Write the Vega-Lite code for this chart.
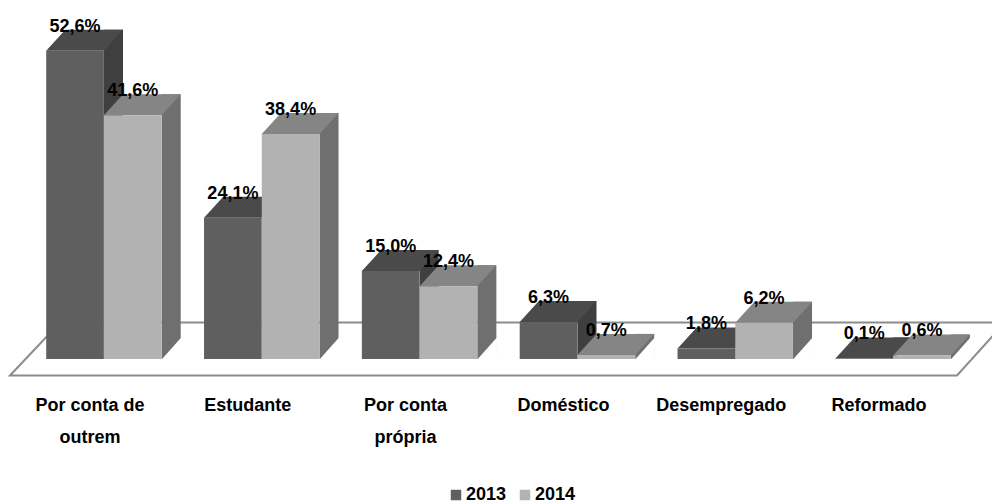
{
"$schema":"https://vega.github.io/schema/vega-lite/v6.json",
"autosize":{"type":"none"},
"padding":{"left":25,"top":0,"right":20,"bottom":145},
"width":947,"height":359,
"background":"white",
"config":{"view":{"stroke":null}},
"data":{"values":[
{"categoria":"Por conta de outrem","ano":"2013","valor":52.6,"rotulo":"52,6%"},
{"categoria":"Por conta de outrem","ano":"2014","valor":41.6,"rotulo":"41,6%"},
{"categoria":"Estudante","ano":"2013","valor":24.1,"rotulo":"24,1%"},
{"categoria":"Estudante","ano":"2014","valor":38.4,"rotulo":"38,4%"},
{"categoria":"Por conta própria","ano":"2013","valor":15.0,"rotulo":"15,0%"},
{"categoria":"Por conta própria","ano":"2014","valor":12.4,"rotulo":"12,4%"},
{"categoria":"Doméstico","ano":"2013","valor":6.3,"rotulo":"6,3%"},
{"categoria":"Doméstico","ano":"2014","valor":0.7,"rotulo":"0,7%"},
{"categoria":"Desempregado","ano":"2013","valor":1.8,"rotulo":"1,8%"},
{"categoria":"Desempregado","ano":"2014","valor":6.2,"rotulo":"6,2%"},
{"categoria":"Reformado","ano":"2013","valor":0.1,"rotulo":"0,1%"},
{"categoria":"Reformado","ano":"2014","valor":0.6,"rotulo":"0,6%"}
]},
"encoding":{
"x":{"field":"categoria","type":"nominal","sort":null,"scale":{"paddingInner":0,"paddingOuter":0},
"axis":{"title":null,"domain":false,"ticks":false,"labelAngle":0,"labelOffset":-14,"labelPadding":46,"labelFont":"Liberation Sans","labelFontWeight":"bold","labelFontSize":18,"labelColor":"#000000","labelLineHeight":32,"labelBaseline":"middle","labelLimit":300,
"labelExpr":"datum.label == 'Por conta de outrem' ? ['Por conta de','outrem'] : datum.label == 'Por conta própria' ? ['Por conta','própria'] : datum.label"}},
"xOffset":{"field":"ano","type":"nominal","scale":{"paddingInner":0,"paddingOuter":0.367}},
"y":{"field":"valor","type":"quantitative","scale":{"domain":[0,61.26],"nice":false},"axis":null}
},
"layer":[
{"data":{"values":[{"a":1}]},"mark":{"type":"point","shape":"M-15 375.5L35 322.5L980 322.5L932 375.5Z","filled":false,"size":4,"stroke":"#8c8c8c","strokeWidth":2,"opacity":1},
 "encoding":{"x":{"value":0},"y":{"value":0},"xOffset":null}},
{"transform":[{"filter":"datum.ano == '2013'"}],"mark":{"type":"bar","width":19,"yOffset":-21,"color":"#3f3f3f"},
 "encoding":{"y2":{"datum":0},"xOffset":{"value":88.5}}},
{"transform":[{"filter":"datum.ano == '2014'"}],"mark":{"type":"bar","width":19,"yOffset":-21,"color":"#6f6f6f"},
 "encoding":{"y2":{"datum":0},"xOffset":{"value":146.2}}},
{"mark":{"type":"point","shape":"M28.85 0.5L48 -21L48.5 -21L48.5 0.5Z","filled":true,"size":4,"fill":"#ffffff","strokeWidth":0,"opacity":1},
 "encoding":{"y":{"datum":0}}},
{"mark":{"type":"point","shape":"M-28.85 0L28.85 0L48 -21L-9.7 -21Z","filled":true,"size":4,"opacity":1,"strokeWidth":0},
 "encoding":{"color":{"field":"ano","type":"nominal","scale":{"domain":["2013","2014"],"range":["#4a4a4a","#858585"]},"legend":null}}},
{"mark":{"type":"bar","width":57.7},
 "encoding":{"y2":{"datum":0},"color":{"field":"ano","type":"nominal","title":null,"scale":{"domain":["2013","2014"],"range":["#5f5f5f","#b2b2b2"]},
 "legend":{"orient":"none","legendX":422,"legendY":486,"direction":"horizontal","columns":2,"symbolType":"square","symbolSize":110,"symbolStrokeWidth":0,"labelFont":"Liberation Sans","labelFontWeight":"bold","labelFontSize":18,"labelColor":"#000000","columnPadding":9,"labelOffset":1,"padding":0}}}},
{"mark":{"type":"text","font":"Liberation Sans","fontWeight":"bold","fontSize":18,"color":"#000000","dy":-24,"baseline":"middle"},
 "encoding":{"text":{"field":"rotulo"}}}
],
"resolve":{"scale":{"color":"independent"}}
}
